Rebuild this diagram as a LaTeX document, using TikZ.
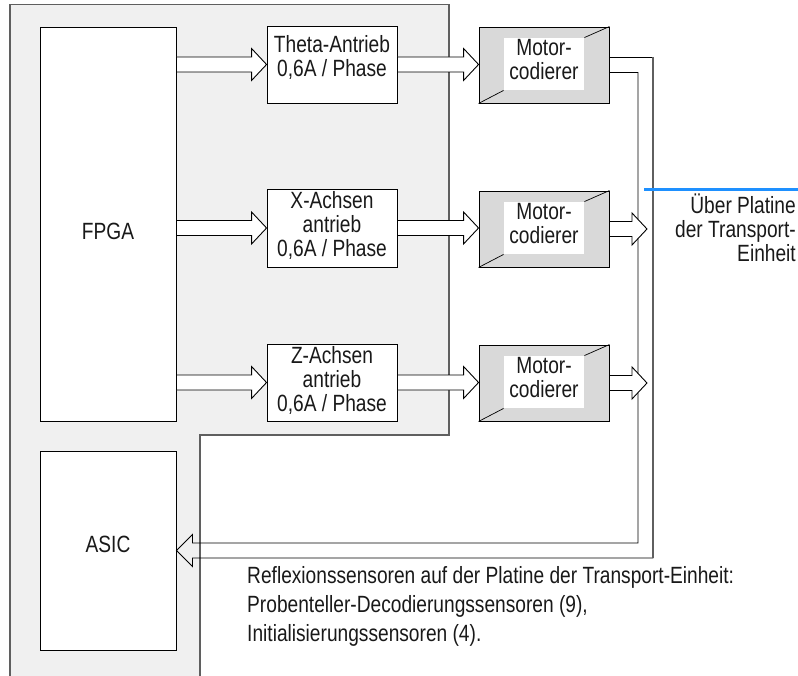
\documentclass[tikz,border=0pt]{standalone}
\usepackage{fontspec}
\setmainfont[FakeStretch=0.815]{Liberation Sans}
\usetikzlibrary{calc}
\definecolor{panelgray}{RGB}{240,240,240}
\definecolor{motorgray}{RGB}{217,217,217}
\definecolor{edgegray}{RGB}{95,95,95}
\definecolor{linkblue}{RGB}{30,144,255}
% hollow block arrow pointing right, from #1 to #2 (same height)
\newcommand\hollowR[2]{%
  \draw[hollow] let \p1=(#1), \p2=(#2) in
    (\x1,\y1-7.5pt) -- (\x2-15pt,\y1-7.5pt) -- (\x2-15pt,\y1-16pt) -- (\x2,\y1)
    -- (\x2-15pt,\y1+16pt) -- (\x2-15pt,\y1+7.5pt) -- (\x1,\y1+7.5pt) -- cycle;}
\begin{document}
\begin{tikzpicture}[x=1pt,y=-1pt,
  every node/.style={font=\fontsize{23.5}{24}\selectfont, inner sep=0pt, text=black!90},
  blk/.style={draw=black, line width=0.9pt, fill=white},
  motorbox/.style={draw=black, line width=0.9pt, fill=motorgray},
  txt/.style={align=center},
  hollow/.style={draw=black, line width=0.9pt, fill=white, line join=miter},
  wire/.style={draw=black, line width=0.9pt},
]
\useasboundingbox (0,0) rectangle (798,676);

% grey carrier board
\fill[panelgray] (10,4.5) -- (449,4.5) -- (449,435) -- (200,435) -- (200,680) -- (10,680) -- cycle;
\draw[edgegray, line width=1.1pt] (200,680) -- (200,435) -- (449,435) -- (449,4.5) -- (10,4.5) -- (10,680);

% controller blocks
\node[blk, minimum width=136, minimum height=394] (fpga) at (108,224) {};
\node[txt] (fpgatext) at (108,231) {FPGA};
\node[blk, minimum width=136, minimum height=199] (asic) at (108,550.5) {};
\node[txt] (asictext) at (108,544) {ASIC};

% drivers
\node[blk, minimum width=130, minimum height=77] (theta) at (332,64.5) {};
\node[txt] (thetatext) at (332,57) {Theta-Antrieb\\0,6A / Phase};
\node[blk, minimum width=130, minimum height=78] (xdrv) at (332,228) {};
\node[txt] (xtext) at (332,225) {X-Achsen\\antrieb\\0,6A / Phase};
\node[blk, minimum width=130, minimum height=77] (zdrv) at (332,382.5) {};
\node[txt] (ztext) at (332,380) {Z-Achsen\\antrieb\\0,6A / Phase};

% motor / encoder units
\foreach \n/\yc in {m1/65, m2/229, m3/383}{
  \node[motorbox, minimum width=130, minimum height=76] (\n) at (544,\yc) {};
  \fill[white] ($(\n.north west)+(25,11)$) rectangle ($(\n.south east)+(-25,-13)$);
  \draw[line width=0.7pt] (\n.north east) -- ($(\n.north east)+(-25,11)$);
  \draw[line width=0.7pt] (\n.south west) -- ($(\n.south west)+(25,-13)$);
  \node[txt] (\n text) at (544,\yc-5) {Motor-\\codierer};
}

% bus lines to the transport unit board
\coordinate (outerx) at (653,0);
\coordinate (innerx) at (638,0);
\coordinate (headb) at ($(asic.east)+(16,0)$);
\draw[wire] ($(m1.east)+(0,-7.5)$) -| ($(outerx |- headb)+(0,7.5)$)
  -- ($(headb)+(0,7.5)$) -- ($(headb)+(0,16)$) -- (asic.east)
  -- ($(headb)+(0,-16)$) -- ($(headb)+(0,-7.5)$)
  -- ($(innerx |- headb)+(0,-7.5)$) |- ($(m1.east)+(0,7.5)$);
\draw[edgegray, line width=1.3pt] ($(outerx |- m1.east)+(0,-7.5)$) -- ($(outerx |- headb)+(0,7.5)$);

% block arrows
\hollowR{fpga.east |- theta}{theta.west}
\hollowR{fpga.east |- xdrv}{xdrv.west}
\hollowR{fpga.east |- zdrv}{zdrv.west}
\hollowR{theta.east}{m1.west}
\hollowR{xdrv.east}{m2.west}
\hollowR{zdrv.east}{m3.west}
\coordinate (bus2) at (647,229);
\coordinate (bus3) at (647,383);
\hollowR{m2.east}{bus2}
\hollowR{m3.east}{bus3}

% boundary marker and captions
\coordinate (blueL) at (644,190);
\coordinate (blueR) at (798,190);
\draw[linkblue, line width=3pt] (blueL) -- (blueR);
\node[align=right, anchor=north east] (uber) at (796,194) {Über Platine\\der Transport-\\Einheit};
\node[align=left, anchor=north west, font=\fontsize{23.5}{29}\selectfont] (sensors) at (247,566)
  {Reflexionssensoren auf der Platine der Transport-Einheit:\\Probenteller-Decodierungssensoren (9),\\Initialisierungssensoren (4).};
\end{tikzpicture}
\end{document}
